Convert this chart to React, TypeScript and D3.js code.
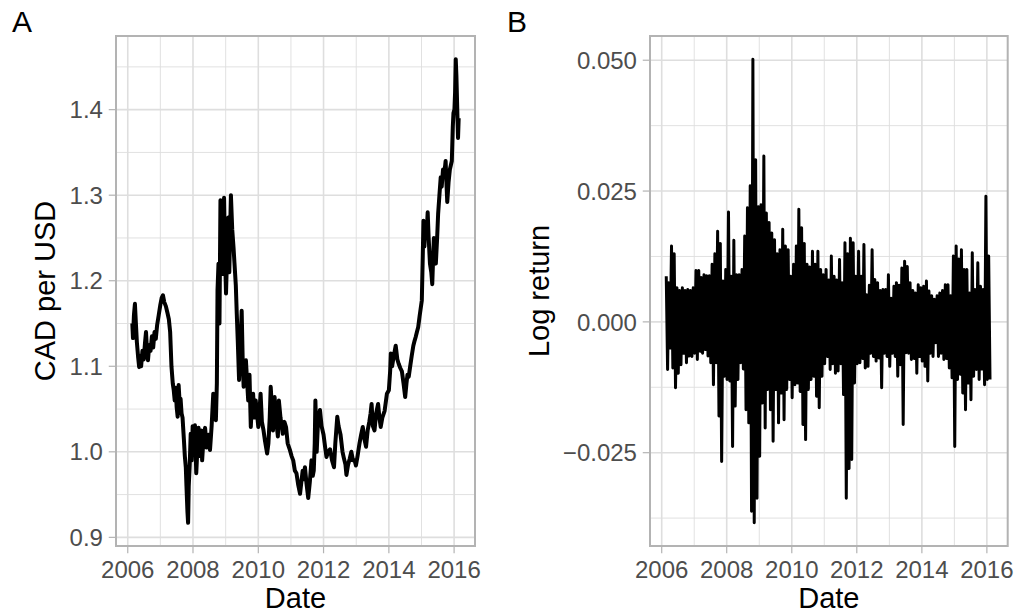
import React from "react";
import * as d3 from "d3";

// CAD per USD exchange rate, [decimal year, rate]
const cadPerUsd: [number, number][] = [
  [2006.14, 1.150], [2006.16, 1.133], [2006.19, 1.160], [2006.22, 1.173], [2006.25, 1.150],
  [2006.28, 1.128], [2006.32, 1.110], [2006.35, 1.099], [2006.38, 1.112], [2006.41, 1.100],
  [2006.45, 1.118], [2006.49, 1.108], [2006.53, 1.128], [2006.56, 1.140], [2006.59, 1.118],
  [2006.62, 1.107], [2006.66, 1.125], [2006.70, 1.118], [2006.74, 1.135], [2006.78, 1.122],
  [2006.82, 1.140], [2006.86, 1.132], [2006.90, 1.148], [2006.95, 1.160], [2007.00, 1.172],
  [2007.04, 1.180], [2007.08, 1.183], [2007.12, 1.175], [2007.17, 1.170], [2007.22, 1.162],
  [2007.26, 1.155], [2007.30, 1.140], [2007.34, 1.100], [2007.38, 1.080], [2007.41, 1.072],
  [2007.44, 1.060], [2007.47, 1.075], [2007.50, 1.052], [2007.53, 1.041], [2007.56, 1.078],
  [2007.59, 1.058], [2007.62, 1.062], [2007.65, 1.045], [2007.68, 1.040], [2007.72, 1.015],
  [2007.75, 0.995], [2007.78, 0.982], [2007.80, 0.960], [2007.83, 0.930], [2007.85, 0.917],
  [2007.87, 0.960], [2007.90, 0.985], [2007.93, 1.021], [2007.96, 0.990], [2007.99, 1.030],
  [2008.02, 1.005], [2008.06, 1.031], [2008.10, 0.975], [2008.13, 1.000], [2008.17, 1.028],
  [2008.21, 0.995], [2008.25, 1.025], [2008.28, 0.990], [2008.32, 1.015], [2008.37, 1.028],
  [2008.42, 1.005], [2008.47, 1.020], [2008.52, 1.002], [2008.57, 1.030], [2008.62, 1.068],
  [2008.66, 1.050], [2008.70, 1.037], [2008.73, 1.080], [2008.75, 1.189], [2008.78, 1.220],
  [2008.81, 1.150], [2008.84, 1.294], [2008.87, 1.250], [2008.91, 1.208], [2008.95, 1.297],
  [2008.98, 1.230], [2009.01, 1.185], [2009.05, 1.240], [2009.08, 1.274], [2009.11, 1.210],
  [2009.16, 1.300], [2009.20, 1.260], [2009.24, 1.239], [2009.27, 1.220], [2009.31, 1.195],
  [2009.34, 1.161], [2009.37, 1.130], [2009.41, 1.084], [2009.45, 1.120], [2009.49, 1.165],
  [2009.52, 1.110], [2009.55, 1.076], [2009.59, 1.100], [2009.62, 1.107], [2009.66, 1.080],
  [2009.69, 1.060], [2009.73, 1.090], [2009.77, 1.029], [2009.80, 1.055], [2009.84, 1.068],
  [2009.88, 1.040], [2009.92, 1.060], [2009.96, 1.045], [2010.00, 1.029], [2010.04, 1.050],
  [2010.07, 1.068], [2010.11, 1.035], [2010.16, 1.025], [2010.20, 1.014], [2010.24, 1.005],
  [2010.27, 0.998], [2010.31, 1.010], [2010.35, 1.040], [2010.38, 1.076], [2010.42, 1.050],
  [2010.45, 1.025], [2010.50, 1.064], [2010.54, 1.040], [2010.60, 1.018], [2010.63, 1.060],
  [2010.68, 1.040], [2010.75, 1.021], [2010.80, 1.035], [2010.85, 1.029], [2010.90, 1.010],
  [2010.97, 1.002], [2011.02, 0.995], [2011.07, 0.990], [2011.12, 0.978], [2011.17, 0.975],
  [2011.22, 0.962], [2011.28, 0.951], [2011.32, 0.965], [2011.36, 0.978], [2011.40, 0.968],
  [2011.43, 0.982], [2011.48, 0.962], [2011.53, 0.946], [2011.58, 0.965], [2011.63, 0.990],
  [2011.67, 0.972], [2011.70, 0.978], [2011.73, 1.010], [2011.75, 1.060], [2011.79, 1.000],
  [2011.83, 1.035], [2011.89, 1.049], [2011.94, 1.030], [2012.00, 1.020], [2012.05, 1.005],
  [2012.09, 0.994], [2012.14, 1.000], [2012.20, 1.003], [2012.26, 0.990], [2012.32, 0.982],
  [2012.36, 1.010], [2012.42, 1.041], [2012.46, 1.030], [2012.52, 1.020], [2012.58, 1.000],
  [2012.62, 0.993], [2012.67, 0.985], [2012.70, 0.973], [2012.75, 0.985], [2012.80, 0.992],
  [2012.85, 1.000], [2012.90, 0.990], [2012.95, 0.990], [2012.99, 0.984], [2013.04, 0.995],
  [2013.10, 1.010], [2013.15, 1.020], [2013.20, 1.029], [2013.25, 1.015], [2013.30, 1.006],
  [2013.35, 1.025], [2013.40, 1.035], [2013.44, 1.045], [2013.47, 1.056], [2013.51, 1.030],
  [2013.56, 1.025], [2013.61, 1.045], [2013.67, 1.056], [2013.71, 1.040], [2013.75, 1.029],
  [2013.80, 1.040], [2013.87, 1.048], [2013.94, 1.068], [2014.00, 1.072], [2014.04, 1.095],
  [2014.06, 1.115], [2014.10, 1.100], [2014.15, 1.112], [2014.21, 1.124], [2014.26, 1.108],
  [2014.30, 1.103], [2014.35, 1.098], [2014.40, 1.094], [2014.45, 1.080], [2014.50, 1.064],
  [2014.54, 1.080], [2014.57, 1.090], [2014.61, 1.088], [2014.65, 1.099], [2014.70, 1.112],
  [2014.75, 1.124], [2014.79, 1.130], [2014.82, 1.134], [2014.86, 1.140], [2014.90, 1.146],
  [2014.94, 1.158], [2014.97, 1.166], [2015.01, 1.177], [2015.04, 1.230], [2015.06, 1.270],
  [2015.09, 1.240], [2015.12, 1.265], [2015.15, 1.250], [2015.19, 1.280], [2015.22, 1.250],
  [2015.26, 1.220], [2015.30, 1.210], [2015.33, 1.196], [2015.36, 1.230], [2015.38, 1.250],
  [2015.41, 1.235], [2015.44, 1.220], [2015.48, 1.250], [2015.51, 1.278], [2015.55, 1.300],
  [2015.59, 1.321], [2015.62, 1.310], [2015.66, 1.330], [2015.70, 1.325], [2015.74, 1.340],
  [2015.77, 1.310], [2015.79, 1.292], [2015.83, 1.315], [2015.87, 1.330], [2015.90, 1.335],
  [2015.93, 1.340], [2015.96, 1.380], [2015.98, 1.396], [2016.01, 1.400], [2016.03, 1.420],
  [2016.05, 1.459], [2016.07, 1.440], [2016.09, 1.410], [2016.11, 1.380], [2016.12, 1.367],
  [2016.14, 1.390],
];

// Monthly extremes of the daily log return, one month per entry from Feb 2006
const returnMonthStart = 2006.14;
const returnHigh: number[] = [
  0.0087, 0.0075, 0.0145, 0.013, 0.0065, 0.006, 0.0065, 0.006, 0.0062, 0.006,
  0.0065, 0.0098, 0.0098, 0.0085, 0.009, 0.0088, 0.0088, 0.011, 0.013, 0.0173,
  0.015, 0.0078, 0.010, 0.021, 0.0087, 0.0156, 0.009, 0.009, 0.010, 0.0164,
  0.0218, 0.026, 0.0502, 0.031, 0.022, 0.0224, 0.0317, 0.0208, 0.019, 0.017,
  0.0157, 0.013, 0.0138, 0.0177, 0.0145, 0.0138, 0.0087, 0.011, 0.0145, 0.0215,
  0.018, 0.015, 0.011, 0.0105, 0.0135, 0.011, 0.0135, 0.010, 0.009, 0.010,
  0.008, 0.0126, 0.0087, 0.008, 0.0119, 0.0075, 0.0151, 0.013, 0.016, 0.0151,
  0.0087, 0.0135, 0.0087, 0.0148, 0.0052, 0.007, 0.0138, 0.0081, 0.0075, 0.006,
  0.0062, 0.0062, 0.009, 0.0045, 0.0068, 0.0075, 0.007, 0.0103, 0.0116, 0.0106,
  0.0075, 0.006, 0.0055, 0.0071, 0.0065, 0.0068, 0.0078, 0.0059, 0.005, 0.0043,
  0.005, 0.0055, 0.006, 0.0071, 0.0071, 0.005, 0.0126, 0.0145, 0.012, 0.0138,
  0.010, 0.010, 0.0055, 0.0132, 0.0062, 0.0113, 0.0068, 0.0062, 0.024, 0.0126,
];
const returnLow: number[] = [
  -0.0091, -0.005, -0.0088, -0.0126, -0.0098, -0.0082, -0.006, -0.0078, -0.0065, -0.0066,
  -0.006, -0.0072, -0.0056, -0.006, -0.0053, -0.0065, -0.0078, -0.012, -0.0078, -0.018,
  -0.0267, -0.0104, -0.011, -0.0113, -0.0238, -0.0161, -0.011, -0.0078, -0.009, -0.0168,
  -0.0193, -0.0362, -0.0384, -0.0337, -0.0257, -0.0155, -0.0203, -0.0129, -0.0168, -0.0228,
  -0.0129, -0.0193, -0.0136, -0.0187, -0.0129, -0.011, -0.0145, -0.012, -0.0117, -0.0133,
  -0.0196, -0.0225, -0.0129, -0.011, -0.0104, -0.0142, -0.0164, -0.0104, -0.008, -0.0066,
  -0.0091, -0.008, -0.0098, -0.0094, -0.008, -0.0139, -0.0337, -0.028, -0.0263, -0.0117,
  -0.008, -0.0078, -0.007, -0.0088, -0.0085, -0.006, -0.0066, -0.0075, -0.0069, -0.0126,
  -0.006, -0.0066, -0.0085, -0.006, -0.0066, -0.0104, -0.0082, -0.0196, -0.0059, -0.006,
  -0.0072, -0.007, -0.0098, -0.0066, -0.0075, -0.0085, -0.0113, -0.006, -0.0066, -0.004,
  -0.0066, -0.006, -0.0072, -0.007, -0.0088, -0.0107, -0.0238, -0.011, -0.010, -0.0136,
  -0.0168, -0.0117, -0.0149, -0.0104, -0.0091, -0.011, -0.009, -0.012, -0.011, -0.011,
];

const yearBreaks = [2006, 2008, 2010, 2012, 2014, 2016];
const yearMinorBreaks = [2007, 2009, 2011, 2013, 2015];
const rateBreaks = [0.9, 1.0, 1.1, 1.2, 1.3, 1.4];
const rateMinorBreaks = [0.95, 1.05, 1.15, 1.25, 1.35, 1.45];
const returnBreaks = [-0.025, 0, 0.025, 0.05];
const returnMinorBreaks = [-0.0375, -0.0125, 0.0125, 0.0375];

const FONT = "'Liberation Sans', Arial, Helvetica, sans-serif";
const GRID = "#DEDEDE";
const BORDER = "#B3B3B3";
const TICK_TEXT = "#4D4D4D";

// decimal year -> Date
function toDate(y: number): Date {
  const yr = Math.floor(y);
  const start = new Date(yr, 0, 1).getTime();
  const end = new Date(yr + 1, 0, 1).getTime();
  return new Date(start + (y - yr) * (end - start));
}

function expand(ext: [number, number]): [number, number] {
  const pad = (ext[1] - ext[0]) * 0.05;
  return [ext[0] - pad, ext[1] + pad];
}

type Pt = [Date, number];

const ratePoints: Pt[] = cadPerUsd.map((d) => [toDate(d[0]), d[1]]);

// each month: its high, then its low half a month later
const returnPoints: Pt[] = returnHigh.flatMap((hi, i) => {
  const m = d3.timeMonth.offset(toDate(returnMonthStart), i);
  return [
    [m, hi] as Pt,
    [d3.timeDay.offset(m, 15), returnLow[i]] as Pt,
  ];
});

// both series share the same trading days
const dateExtent = d3.extent(ratePoints, (d) => d[0]) as [Date, Date];
const datePad = (dateExtent[1].getTime() - dateExtent[0].getTime()) * 0.05;
const dateDomain: [Date, Date] = [
  new Date(dateExtent[0].getTime() - datePad),
  new Date(dateExtent[1].getTime() + datePad),
];

type PanelProps = {
  data: Pt[];
  left: number;
  right: number;
  top: number;
  bottom: number;
  yBreaks: number[];
  yMinor: number[];
  fmt: (v: number) => string;
  yTitle: string;
  yTitleX: number;
  tag: string;
  tagX: number;
  lineWidth: number;
};

function Panel(p: PanelProps) {
  const x = d3.scaleTime().domain(dateDomain).range([p.left, p.right]);
  const y = d3
    .scaleLinear()
    .domain(expand(d3.extent(p.data, (d) => d[1]) as [number, number]))
    .range([p.bottom, p.top]);

  const line = d3
    .line<Pt>()
    .x((d) => x(d[0]))
    .y((d) => y(d[1]));

  const tickLen = 7.25;
  const gap = 5.8;
  const cx = (p.left + p.right) / 2;
  const cy = (p.top + p.bottom) / 2;
  const clipId = `clip-${p.tag}`;

  return (
    <g>
      <defs>
        <clipPath id={clipId}>
          <rect x={p.left} y={p.top} width={p.right - p.left} height={p.bottom - p.top} />
        </clipPath>
      </defs>
      {/* minor grid */}
      {p.yMinor.map((v) => (
        <line key={`ym${v}`} x1={p.left} x2={p.right} y1={y(v)} y2={y(v)} stroke={GRID} strokeWidth={0.9} />
      ))}
      {yearMinorBreaks.map((v) => (
        <line key={`xm${v}`} x1={x(toDate(v))} x2={x(toDate(v))} y1={p.top} y2={p.bottom} stroke={GRID} strokeWidth={0.9} />
      ))}
      {/* major grid */}
      {p.yBreaks.map((v) => (
        <line key={`yM${v}`} x1={p.left} x2={p.right} y1={y(v)} y2={y(v)} stroke={GRID} strokeWidth={1.6} />
      ))}
      {yearBreaks.map((v) => (
        <line key={`xM${v}`} x1={x(toDate(v))} x2={x(toDate(v))} y1={p.top} y2={p.bottom} stroke={GRID} strokeWidth={1.6} />
      ))}
      {/* series */}
      <path
        d={line(p.data) || ""}
        fill="none"
        stroke="#000"
        strokeWidth={p.lineWidth}
        strokeLinejoin="round"
        strokeLinecap="butt"
        clipPath={`url(#${clipId})`}
      />
      {/* border */}
      <rect
        x={p.left}
        y={p.top}
        width={p.right - p.left}
        height={p.bottom - p.top}
        fill="none"
        stroke={BORDER}
        strokeWidth={2}
      />
      {/* y axis */}
      {p.yBreaks.map((v) => (
        <g key={`yt${v}`}>
          <line x1={p.left - tickLen} x2={p.left} y1={y(v)} y2={y(v)} stroke={BORDER} strokeWidth={1.2} />
          <text
            x={p.left - tickLen - gap}
            y={y(v)}
            dy="0.36em"
            textAnchor="end"
            fontFamily={FONT}
            fontSize={24}
            fill={TICK_TEXT}
          >
            {p.fmt(v)}
          </text>
        </g>
      ))}
      {/* x axis */}
      {yearBreaks.map((v) => (
        <g key={`xt${v}`}>
          <line x1={x(toDate(v))} x2={x(toDate(v))} y1={p.bottom} y2={p.bottom + tickLen} stroke={BORDER} strokeWidth={1.2} />
          <text
            x={x(toDate(v))}
            y={578}
            textAnchor="middle"
            fontFamily={FONT}
            fontSize={24}
            fill={TICK_TEXT}
          >
            {String(v)}
          </text>
        </g>
      ))}
      <text x={cx} y={608} textAnchor="middle" fontFamily={FONT} fontSize={29} fill="#000">
        Date
      </text>
      <text
        transform={`translate(${p.yTitleX},${cy}) rotate(-90)`}
        textAnchor="middle"
        fontFamily={FONT}
        fontSize={29}
        fill="#000"
      >
        {p.yTitle}
      </text>
      <text x={p.tagX} y={31.5} fontFamily={FONT} fontSize={30} fill="#000">
        {p.tag}
      </text>
    </g>
  );
}

const fmtRate = (v: number) => d3.format(".1f")(v);
const fmtReturn = (v: number) => (v < 0 ? "\u2212" : "") + Math.abs(v).toFixed(3);

export default function App() {
  return (
    <svg
      width={1016}
      height={615}
      viewBox="0 0 1016 615"
      style={{ position: "absolute", left: 0, top: 0, background: "#fff" }}
    >
      <rect x={0} y={0} width={1016} height={615} fill="#fff" />
      <Panel
        data={ratePoints}
        left={116}
        right={475}
        top={36}
        bottom={546}
        yBreaks={rateBreaks}
        yMinor={rateMinorBreaks}
        fmt={fmtRate}
        yTitle="CAD per USD"
        yTitleX={55}
        tag="A"
        tagX={12}
        lineWidth={4}
      />
      <Panel
        data={returnPoints}
        left={650}
        right={1007.7}
        top={36}
        bottom={546}
        yBreaks={returnBreaks}
        yMinor={returnMinorBreaks}
        fmt={fmtReturn}
        yTitle="Log return"
        yTitleX={549}
        tag="B"
        tagX={507}
        lineWidth={3}
      />
    </svg>
  );
}
